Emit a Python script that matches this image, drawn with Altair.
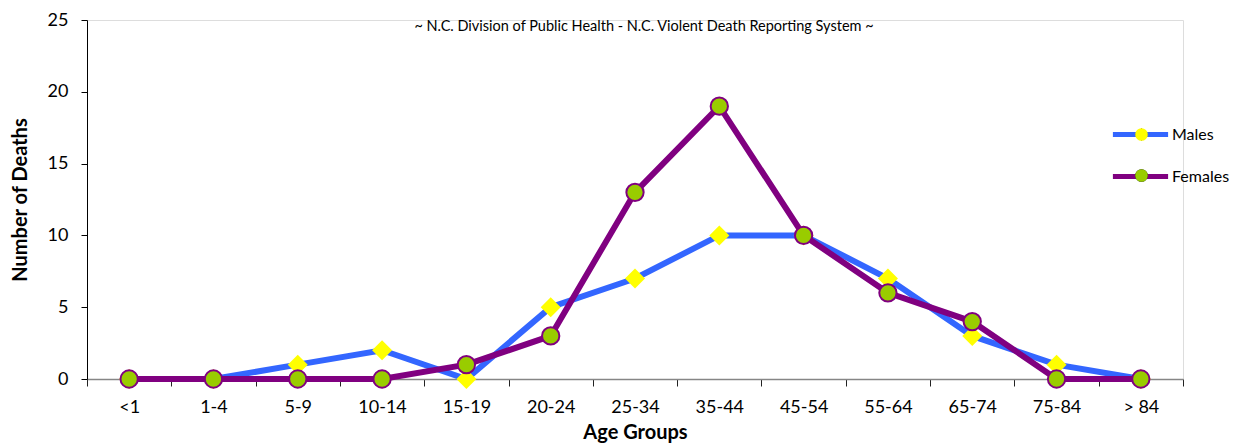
import altair as alt
import pandas as pd

ages = ["<1", "1-4", "5-9", "10-14", "15-19", "20-24", "25-34", "35-44",
        "45-54", "55-64", "65-74", "75-84", "> 84"]
males = [0, 0, 1, 2, 0, 5, 7, 10, 10, 7, 3, 1, 0]
females = [0, 0, 0, 0, 1, 3, 13, 19, 10, 6, 4, 0, 0]
series_names = ["Males", "Females"]
line_colors = ["#3366FF", "#800080"]
marker_fills = ["#FFFF00", "#99CC00"]
marker_shapes = ["diamond", "circle"]
y_ticks = [0, 5, 10, 15, 20, 25]
title_text = "~ N.C. Division of Public Health - N.C. Violent Death Reporting System ~"

rows = []
for a, m, f in zip(ages, males, females):
    rows.append({"age": a, "series": "Males", "series2": "Males", "deaths": m})
    rows.append({"age": a, "series": "Females", "series2": "Females", "deaths": f})
df = pd.DataFrame(rows)

FONT = "Lato"
LX, LY = 1045, 106

x = alt.X("age:N", sort=ages,
          scale=alt.Scale(type="band", paddingInner=0, paddingOuter=0),
          axis=alt.Axis(title="Age Groups", labelAngle=0, tickBand="extent",
                        domainColor="#868686", domainWidth=1.5,
                        tickColor="#222222", tickSize=7, labelPadding=12,
                        labelFont=FONT, labelFontSize=18, labelColor="#000000",
                        titleFont=FONT, titleFontSize=20, titleFontWeight="bold",
                        titleColor="#000000", titlePadding=6, grid=False))
y = alt.Y("deaths:Q", scale=alt.Scale(domain=[0, 25], nice=False),
          axis=alt.Axis(title="Number of Deaths", values=y_ticks,
                        domainColor="#000000", tickColor="#000000", tickSize=6,
                        labelPadding=13, labelFont=FONT, labelFontSize=18,
                        labelColor="#000000", titleFont=FONT, titleFontSize=20,
                        titleFontWeight="bold", titleColor="#000000",
                        titlePadding=17, grid=False))

line_legend = alt.Legend(orient="none", legendX=LX, legendY=LY, title=None,
                         direction="vertical", padding=0,
                         symbolType="M-4.6,0L4.6,0", symbolSize=144,
                         symbolStrokeWidth=5, labelFont=FONT, labelFontSize=16,
                         labelColor="#000000", labelOffset=23, rowPadding=21)
point_legend = alt.Legend(orient="none", legendX=LX + 3, legendY=LY + 2, title=None,
                          direction="vertical", padding=0,
                          symbolSize=160, symbolStrokeWidth=0,
                          labelExpr="''", labelFontSize=1, labelOffset=0,
                          rowPadding=28)

color = alt.Color("series:N", scale=alt.Scale(domain=series_names, range=line_colors),
                  legend=line_legend)
shape = alt.Shape("series2:N", sort=series_names, scale=alt.Scale(range=marker_shapes),
                  legend=point_legend)
fill = alt.Fill("series2:N", sort=series_names, scale=alt.Scale(range=marker_fills),
                legend=point_legend)

base = alt.Chart(df)
male_line = base.mark_line(strokeWidth=6).encode(x=x, y=y, color=color).transform_filter(
    alt.datum.series == "Males")
male_pts = base.mark_point(filled=True, size=400, strokeWidth=0, opacity=1).encode(
    x=x, y=y, shape=shape, fill=fill).transform_filter(alt.datum.series == "Males")
female_line = base.mark_line(strokeWidth=6).encode(x=x, y=y, color=color).transform_filter(
    alt.datum.series == "Females")
female_pts = base.mark_point(filled=True, size=300, strokeWidth=2, stroke=line_colors[1],
                             opacity=1).encode(
    x=x, y=y, shape=shape, fill=fill).transform_filter(alt.datum.series == "Females")

chart = alt.layer(male_line, male_pts, female_line, female_pts).properties(
    width=1096, height=359,
    title=alt.TitleParams(title_text, font=FONT, fontSize=14.5, fontWeight="normal",
                          color="#000000", anchor="middle", offset=-10,
                          baseline="alphabetic", dx=9, dy=24),
    autosize=alt.AutoSizeParams(type="none"),
    padding={"left": 79, "top": 12, "right": 49, "bottom": 70},
).configure_view(stroke=None).configure(background="white")

chart.save("out.html", embed_options={"renderer": "svg", "actions": False})
